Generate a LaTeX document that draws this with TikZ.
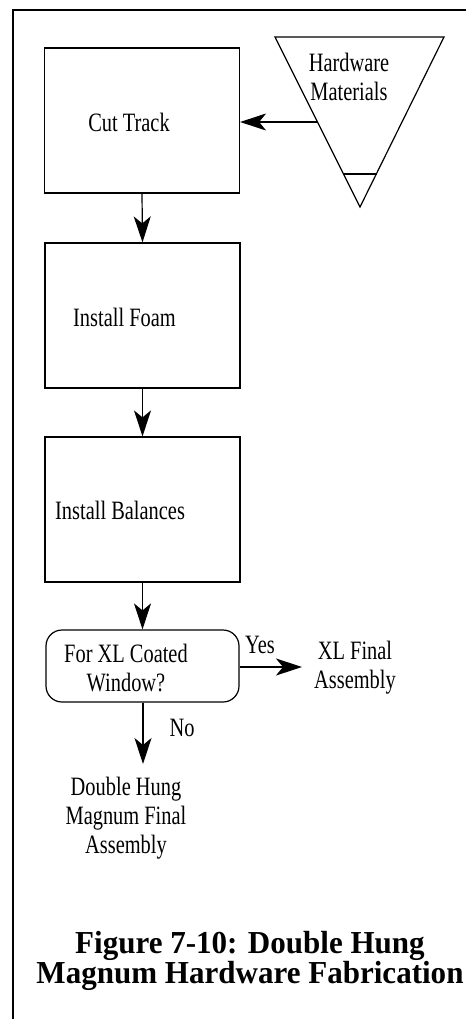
\documentclass[tikz,border=0pt]{standalone}
\usepackage{fontspec}
\setmainfont{Liberation Serif}
\newfontfamily\bodyfont{Liberation Serif}[FakeStretch=0.77]
\newfontfamily\capfont{Liberation Serif}[FakeStretch=0.97]
\usetikzlibrary{arrows.meta}
\tikzset{
  stepbox/.style={draw, line width=1.2pt, minimum width=195pt, minimum height=145pt, inner sep=0pt},
  txt/.style={font=\bodyfont\fontsize{26.5}{29}\selectfont, inner sep=0pt, align=center},
  flow/.style={line width=1.2pt, -{Stealth[length=26pt,width=17pt,inset=7pt]}},
  decbox/.style={draw, line width=1.2pt, rounded corners=16pt, minimum width=193pt, minimum height=72pt, inner sep=0pt},
  captxt/.style={font=\capfont\bfseries\fontsize{32}{30}\selectfont, inner sep=0pt, align=center}
}
\begin{document}
\begin{tikzpicture}[x=1pt,y=-1pt]
\useasboundingbox (0,0) rectangle (466,1019);
% frame
\draw[line width=2pt] (466,10) -- (13,10) -- (13,1019);
% boxes
\node[stepbox] (cut) at (142,120.5) {};
\node[txt] (cutt) at (129,122) {Cut Track};
\node[stepbox] (foam) at (142.5,315.5) {};
\node[txt, anchor=west] (foamt) at (73,317) {Install Foam};
\node[stepbox] (bal) at (142.5,509.5) {};
\node[txt, anchor=west] (balt) at (55,510) {Install Balances};
\node[decbox] (dec) at (142.5,666) {};
\node[txt] (dect) at (126,668) {For XL Coated\\Window?};
% triangle
\coordinate (tl) at (275,37);
\coordinate (tr) at (444,37);
\coordinate (tb) at (360,207);
\draw[line width=1.2pt, line join=miter] (tl) -- (tr) -- (tb) -- cycle;
\coordinate (ml) at (344,174);
\coordinate (mr) at (377,174);
\draw[line width=1.2pt] (ml) -- (mr);
\node[txt] (hw) at (349,77) {Hardware\\Materials};
\coordinate (hwout) at (317.5,122);
% outputs
\node[txt] (xl) at (355,668) {XL Final\\Assembly};
\node[txt] (dh) at (126,818) {Double Hung\\Magnum Final\\Assembly};
\coordinate (yesend) at (302,667);
\coordinate (noend) at (143,764);
% connectors
\draw[flow] (hwout) -- (cut.east |- hwout);
\draw[flow] (cut.south) -- (foam.north);
\draw[flow] (foam.south) -- (bal.north);
\draw[flow] (bal.south) -- (dec.north);
\draw[flow] (dec.east |- yesend) -- (yesend);
\draw[flow] (dec.south -| noend) -- (noend);
\node[txt] (yes) at (260,645) {Yes};
\node[txt] (no) at (182,728) {No};
% caption
\node[captxt] (cap) at (250,961) {Figure 7-10: Double Hung\\Magnum Hardware Fabrication};
\end{tikzpicture}
\end{document}
